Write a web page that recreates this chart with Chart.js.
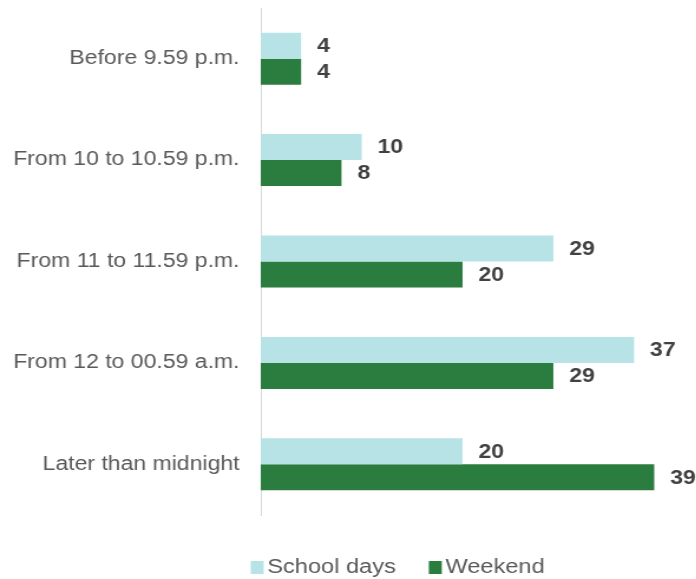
<!DOCTYPE html>
<html>
<head>
<meta charset="utf-8">
<script src="https://cdn.jsdelivr.net/npm/chart.js@4/dist/chart.umd.min.js"></script>
<style>
  html, body { margin: 0; padding: 0; background: #fff; overflow: hidden; }
  /* the source picture is stretched sideways, so the canvas is too */
  #wrap { width: 590px; height: 579px; transform: scaleX(1.18); transform-origin: 0 0; }
</style>
</head>
<body>
<div id="wrap"><canvas id="chart"></canvas></div>
<script>
const categories = ['Before 9.59 p.m.', 'From 10 to 10.59 p.m.', 'From 11 to 11.59 p.m.', 'From 12 to 00.59 a.m.', 'Later than midnight'];
const schoolDays = [4, 10, 29, 37, 20];
const weekend = [4, 8, 20, 29, 39];
const seriesNames = ['School days', 'Weekend'];

const FONT = '"Liberation Sans", Arial, sans-serif';

// numbers at the end of each bar
const valueLabels = {
    id: 'valueLabels',
    afterDatasetsDraw(chart) {
        const ctx = chart.ctx;
        ctx.save();
        ctx.font = 'bold 19.5px ' + FONT;
        ctx.fillStyle = '#404040';
        ctx.textAlign = 'left';
        ctx.textBaseline = 'middle';
        chart.data.datasets.forEach((ds, i) => {
            chart.getDatasetMeta(i).data.forEach((bar, j) => {
                ctx.fillText(ds.data[j], bar.x + 13.5, bar.y + 1);
            });
        });
        ctx.restore();
    }
};

// small legend under the plot, boxes sit close to their text
const bottomLegend = {
    id: 'bottomLegend',
    afterDraw(chart) {
        const ctx = chart.ctx;
        const box = 11, gap = 3, spacing = 28, cy = 567;
        ctx.save();
        ctx.font = '20px ' + FONT;
        ctx.textBaseline = 'middle';
        const items = chart.data.datasets.map(ds => ({
            label: ds.label, color: ds.backgroundColor, w: ctx.measureText(ds.label).width
        }));
        let total = 0;
        items.forEach((it, i) => { total += box + gap + it.w + (i ? spacing : 0); });
        let x = 337 - total / 2;
        items.forEach(it => {
            ctx.fillStyle = it.color;
            ctx.fillRect(x, cy - box / 2 - 0.5, box, 13);
            ctx.fillStyle = '#595959';
            ctx.fillText(it.label, x + box + gap, cy);
            x += box + gap + it.w + spacing;
        });
        ctx.restore();
    }
};

new Chart(document.getElementById('chart'), {
    type: 'bar',
    data: {
        labels: categories,
        datasets: [
            { label: seriesNames[0], data: schoolDays, backgroundColor: '#b7e3e6', barPercentage: 1, categoryPercentage: 0.513 },
            { label: seriesNames[1], data: weekend, backgroundColor: '#2a7d3f', barPercentage: 1, categoryPercentage: 0.513 }
        ]
    },
    options: {
        indexAxis: 'y',
        responsive: true,
        maintainAspectRatio: false,
        animation: false,
        layout: { padding: { top: 8, right: 27, bottom: 64, left: 0 } },
        plugins: {
            legend: { display: false },
            tooltip: { enabled: false }
        },
        scales: {
            x: { display: false, min: 0, max: 40 },
            y: {
                grid: { color: 'transparent', drawTicks: false },
                border: { color: '#d9d9d9', width: 1 },
                ticks: { color: '#595959', padding: 18, font: { family: FONT, size: 19.5 } },
                afterFit(scale) {
                    scale.width = 221;
                    // labels sit in band centres, no need for extra room above/below
                    scale.paddingTop = 0;
                    scale.paddingBottom = 0;
                }
            }
        }
    },
    plugins: [valueLabels, bottomLegend]
});
</script>
</body>
</html>
